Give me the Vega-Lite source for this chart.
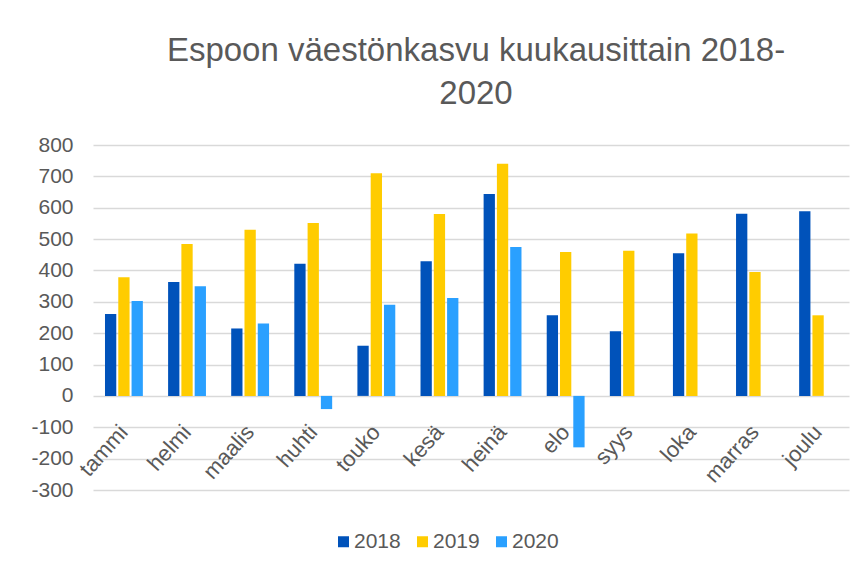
{
  "$schema": "https://vega.github.io/schema/vega-lite/v6.json",
  "autosize": "none",
  "width": 756,
  "height": 345,
  "padding": {"left": 93, "top": 145, "right": 5, "bottom": 85},
  "background": "white",
  "config": {
    "font": "Liberation Sans",
    "view": {"stroke": null}
  },
  "title": {
    "text": ["Espoon väestönkasvu kuukausittain 2018-", "2020"],
    "fontSize": 33,
    "font": "Liberation Sans",
    "fontWeight": "normal",
    "color": "#595959",
    "lineHeight": 43,
    "anchor": "middle",
    "dx": 5,
    "offset": 23
  },
  "data": {
    "values": [
      {"kuukausi": "tammi", "vuosi": "2018", "arvo": 261},
      {"kuukausi": "tammi", "vuosi": "2019", "arvo": 378},
      {"kuukausi": "tammi", "vuosi": "2020", "arvo": 303},
      {"kuukausi": "helmi", "vuosi": "2018", "arvo": 363},
      {"kuukausi": "helmi", "vuosi": "2019", "arvo": 484},
      {"kuukausi": "helmi", "vuosi": "2020", "arvo": 350},
      {"kuukausi": "maalis", "vuosi": "2018", "arvo": 215},
      {"kuukausi": "maalis", "vuosi": "2019", "arvo": 530},
      {"kuukausi": "maalis", "vuosi": "2020", "arvo": 231},
      {"kuukausi": "huhti", "vuosi": "2018", "arvo": 421},
      {"kuukausi": "huhti", "vuosi": "2019", "arvo": 551},
      {"kuukausi": "huhti", "vuosi": "2020", "arvo": -42},
      {"kuukausi": "touko", "vuosi": "2018", "arvo": 160},
      {"kuukausi": "touko", "vuosi": "2019", "arvo": 710},
      {"kuukausi": "touko", "vuosi": "2020", "arvo": 291},
      {"kuukausi": "kesä", "vuosi": "2018", "arvo": 429},
      {"kuukausi": "kesä", "vuosi": "2019", "arvo": 580},
      {"kuukausi": "kesä", "vuosi": "2020", "arvo": 312},
      {"kuukausi": "heinä", "vuosi": "2018", "arvo": 644},
      {"kuukausi": "heinä", "vuosi": "2019", "arvo": 740},
      {"kuukausi": "heinä", "vuosi": "2020", "arvo": 475},
      {"kuukausi": "elo", "vuosi": "2018", "arvo": 257},
      {"kuukausi": "elo", "vuosi": "2019", "arvo": 459},
      {"kuukausi": "elo", "vuosi": "2020", "arvo": -164},
      {"kuukausi": "syys", "vuosi": "2018", "arvo": 206},
      {"kuukausi": "syys", "vuosi": "2019", "arvo": 463},
      {"kuukausi": "loka", "vuosi": "2018", "arvo": 455},
      {"kuukausi": "loka", "vuosi": "2019", "arvo": 518},
      {"kuukausi": "marras", "vuosi": "2018", "arvo": 581},
      {"kuukausi": "marras", "vuosi": "2019", "arvo": 395},
      {"kuukausi": "joulu", "vuosi": "2018", "arvo": 589},
      {"kuukausi": "joulu", "vuosi": "2019", "arvo": 257}
    ]
  },
  "mark": {"type": "bar"},
  "encoding": {
    "x": {
      "field": "kuukausi",
      "type": "nominal",
      "sort": ["tammi", "helmi", "maalis", "huhti", "touko", "kesä", "heinä", "elo", "syys", "loka", "marras", "joulu"],
      "scale": {"paddingInner": 0.4, "paddingOuter": 0.19},
      "axis": {
        "title": null,
        "offset": -94,
        "domain": false,
        "ticks": false,
        "labelAngle": -48,
        "labelAlign": "right",
        "labelBaseline": "middle",
        "labelPadding": 32,
        "labelFontSize": 22,
        "labelColor": "#595959",
        "labelFont": "Liberation Sans"
      }
    },
    "xOffset": {
      "field": "vuosi",
      "type": "nominal",
      "scale": {"domain": ["2018", "2019", "2020"], "paddingInner": 0.15, "paddingOuter": 0}
    },
    "y": {
      "field": "arvo",
      "type": "quantitative",
      "scale": {"domain": [-300, 800], "nice": false},
      "axis": {
        "title": null,
        "values": [-300, -200, -100, 0, 100, 200, 300, 400, 500, 600, 700, 800],
        "labelExpr": "'' + datum.value",
        "domain": false,
        "ticks": false,
        "grid": true,
        "gridColor": "#D9D9D9",
        "gridWidth": 1.5,
        "labelPadding": 20,
        "labelFontSize": 21,
        "labelColor": "#595959",
        "labelFont": "Liberation Sans"
      }
    },
    "color": {
      "field": "vuosi",
      "type": "nominal",
      "scale": {"domain": ["2018", "2019", "2020"], "range": ["#0052BA", "#FFCC00", "#2AA0FF"]},
      "legend": {
        "title": null,
        "orient": "none",
        "direction": "horizontal",
        "legendX": 240,
        "legendY": 386,
        "symbolType": "square",
        "symbolSize": 121,
        "symbolStrokeWidth": 0,
        "labelFontSize": 21,
        "labelColor": "#595959",
        "labelFont": "Liberation Sans",
        "labelOffset": 0,
        "columnPadding": 11
      }
    }
  }
}
